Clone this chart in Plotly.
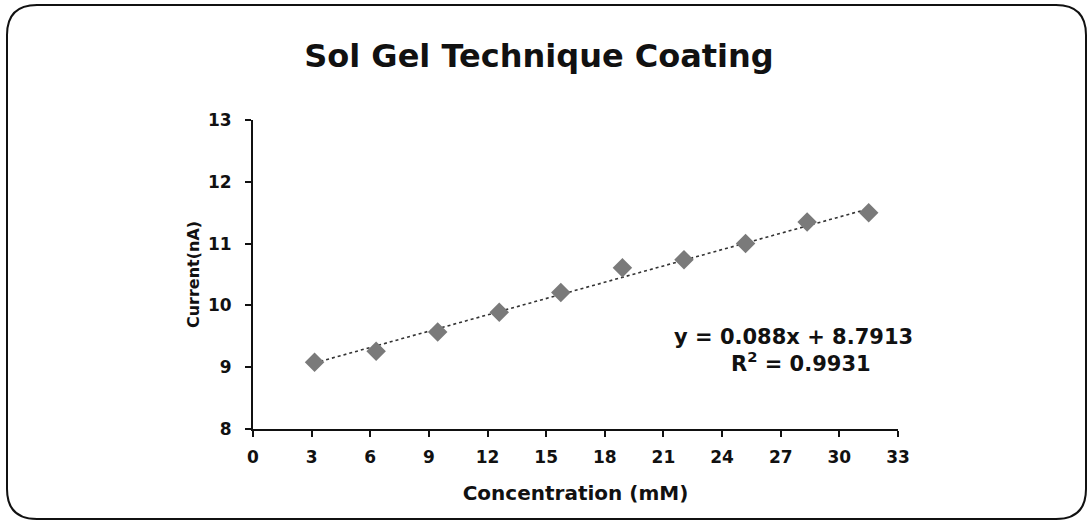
import plotly.graph_objects as go

concentration = [3.15, 6.3, 9.45, 12.6, 15.75, 18.9, 22.05, 25.2, 28.35, 31.5]
current = [9.08, 9.26, 9.57, 9.89, 10.21, 10.61, 10.74, 11.0, 11.35, 11.5]
slope = 0.088
intercept = 8.7913
r_squared = 0.9931
x_ticks = [0, 3, 6, 9, 12, 15, 18, 21, 24, 27, 30, 33]
y_ticks = [8, 9, 10, 11, 12, 13]

W, H = 1092, 525
L, R, T, B = 253, 194, 120, 96
pw, ph = W - L - R, H - T - B

def px(x):
    return (x - L) / pw

def py(y):
    return (H - B - y) / ph

trend_x = [concentration[0], concentration[-1]]
trend_y = [slope * v + intercept for v in trend_x]

fig = go.Figure()
fig.add_trace(go.Scatter(x=trend_x, y=trend_y, mode="lines",
                         line=dict(color="#333333", width=1.6, dash="dot"),
                         showlegend=False, hoverinfo="skip"))
fig.add_trace(go.Scatter(x=concentration, y=current, mode="markers",
                         marker=dict(symbol="diamond", size=15, color="#7a7a7a",
                                     line=dict(width=0)),
                         showlegend=False))

# rounded border
x0, y0, x1, y1, r = 7, 5, 1086, 519, 30
path = (f"M {px(x0+r)},{py(y0)} L {px(x1-r)},{py(y0)} Q {px(x1)},{py(y0)} {px(x1)},{py(y0+r)} "
        f"L {px(x1)},{py(y1-r)} Q {px(x1)},{py(y1)} {px(x1-r)},{py(y1)} "
        f"L {px(x0+r)},{py(y1)} Q {px(x0)},{py(y1)} {px(x0)},{py(y1-r)} "
        f"L {px(x0)},{py(y0+r)} Q {px(x0)},{py(y0)} {px(x0+r)},{py(y0)} Z")
fig.add_shape(type="path", path=path, xref="paper", yref="paper",
              line=dict(color="#111111", width=2), layer="below")

font = "DejaVu Sans, Arial, sans-serif"
ink = "#111111"
fig.update_layout(
    width=W, height=H,
    margin=dict(l=L, r=R, t=T, b=B),
    paper_bgcolor="white", plot_bgcolor="white",
    font=dict(family=font, color=ink),
    title=dict(text="<b>Sol Gel Technique Coating</b>", x=539 / W, xanchor="center",
               y=1 - 56 / H, yanchor="middle", font=dict(size=32, family=font, color=ink)),
    xaxis=dict(range=[0, 33], tickvals=x_ticks, ticktext=[f"<b>{v}</b>" for v in x_ticks],
               showgrid=False, zeroline=False, showline=True, linecolor=ink, linewidth=2,
               ticks="outside", ticklen=6, tickwidth=2, tickcolor=ink, ticklabelstandoff=6,
               tickfont=dict(size=17, family=font, color=ink),
               title=dict(text="<b>Concentration (mM)</b>", font=dict(size=20, family=font, color=ink),
                          standoff=20)),
    yaxis=dict(range=[8, 13], tickvals=y_ticks, ticktext=[f"<b>{v}</b>" for v in y_ticks],
               showgrid=False, zeroline=False, showline=True, linecolor=ink, linewidth=2,
               ticks="outside", ticklen=6, tickwidth=2, tickcolor=ink, ticklabelstandoff=10,
               tickfont=dict(size=17, family=font, color=ink),
               title=dict(text="<b>Current(nA)</b>", font=dict(size=16, family=font, color=ink),
                          standoff=4)),
    annotations=[
        dict(text=f"<b>y = {slope}x + {intercept}</b>", x=px(793), y=py(337), xref="paper", yref="paper",
             xanchor="center", yanchor="middle",
             showarrow=False, font=dict(size=21, family=font, color=ink)),
        dict(text=f"<b>R<sup>2</sup> = {r_squared}</b>", x=px(801), y=py(362), xref="paper", yref="paper",
             xanchor="center", yanchor="middle",
             showarrow=False, font=dict(size=21, family=font, color=ink)),
    ],
)

fig.write_html("out.html", config={"displayModeBar": False},
               post_script="document.body.style.margin='0';")
